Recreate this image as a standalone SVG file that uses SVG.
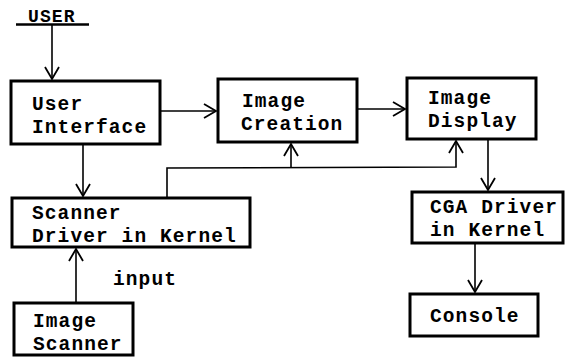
<svg xmlns="http://www.w3.org/2000/svg" width="573" height="357" viewBox="0 0 573 357">
<defs>
<style>
.box{fill:#fff;stroke:#000;stroke-width:3}
.t{font-family:"Liberation Mono",monospace;font-weight:bold;font-size:19.5px;letter-spacing:1.1px;fill:#000}
.c{fill:none;stroke:#000;stroke-width:1.6}
</style>
<marker id="a" markerUnits="userSpaceOnUse" markerWidth="16" markerHeight="18" refX="13" refY="8" orient="auto" viewBox="0 0 16 16">
<path d="M1,1 L13,8 L1,15" fill="none" stroke="#000" stroke-width="1.8"/>
</marker>
</defs>
<rect width="573" height="357" fill="#fff"/>
<g id="user">
<text class="t" x="28" y="22" style="font-size:18px">USER</text>
<line x1="16" y1="24.5" x2="89" y2="24.5" stroke="#000" stroke-width="2.5"/>
</g>
<g id="connectors">
<line class="c" x1="52" y1="25" x2="52" y2="79" marker-end="url(#a)"/>
<line class="c" x1="161" y1="111" x2="216" y2="111" marker-end="url(#a)"/>
<line class="c" x1="358" y1="109" x2="405" y2="109" marker-end="url(#a)"/>
<line class="c" x1="83" y1="145" x2="83" y2="196" marker-end="url(#a)"/>
<polyline class="c" points="167,198 167,168 456,167 456,141" marker-end="url(#a)"/>
<line class="c" x1="291" y1="168" x2="291" y2="144" marker-end="url(#a)"/>
<line class="c" x1="488" y1="140" x2="488" y2="190" marker-end="url(#a)"/>
<line class="c" x1="475" y1="244" x2="475" y2="292" marker-end="url(#a)"/>
<line class="c" x1="76" y1="302" x2="76" y2="249" marker-end="url(#a)"/>
<text class="t" x="113" y="285">input</text>
</g>
<g id="ui">
<rect class="box" x="11" y="81" width="149" height="63"/>
<text class="t" x="32" y="110">User</text>
<text class="t" x="32" y="133">Interface</text>
</g>
<g id="creation">
<rect class="box" x="218" y="79" width="139" height="63"/>
<text class="t" x="242" y="107">Image</text>
<text class="t" x="241" y="130">Creation</text>
</g>
<g id="display">
<rect class="box" x="407" y="78" width="129" height="61"/>
<text class="t" x="428" y="104">Image</text>
<text class="t" x="428" y="127">Display</text>
</g>
<g id="scanner-driver">
<rect class="box" x="12" y="198" width="238" height="49"/>
<text class="t" x="32" y="219">Scanner</text>
<text class="t" x="32" y="242">Driver in Kernel</text>
</g>
<g id="cga">
<rect class="box" x="412" y="192" width="151" height="51"/>
<text class="t" x="430" y="213">CGA Driver</text>
<text class="t" x="430" y="236">in Kernel</text>
</g>
<g id="console">
<rect class="box" x="410" y="294" width="128" height="42"/>
<text class="t" x="430" y="322">Console</text>
</g>
<g id="image-scanner">
<rect class="box" x="14" y="303" width="119" height="52"/>
<text class="t" x="33" y="327">Image</text>
<text class="t" x="33" y="350">Scanner</text>
</g>
</svg>
